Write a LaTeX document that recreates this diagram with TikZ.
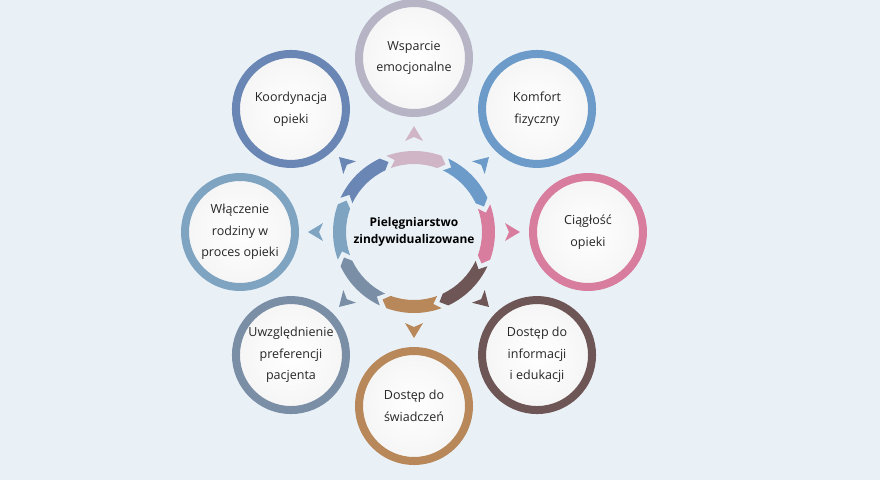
\documentclass[tikz,border=0pt]{standalone}
\usepackage{fontspec}
\setmainfont{Open Sans}
\usetikzlibrary{shadows}

\definecolor{bg}{HTML}{E9F1F7}
\definecolor{cwsp}{HTML}{B6B4C5}
\definecolor{cwspa}{HTML}{D0B5C7}
\definecolor{ckom}{HTML}{6C9BCA}
\definecolor{ccia}{HTML}{D87D9E}
\definecolor{cinf}{HTML}{6F5656}
\definecolor{cswi}{HTML}{B8875A}
\definecolor{cuwz}{HTML}{7A8EA6}
\definecolor{cwla}{HTML}{7FA4C2}
\definecolor{ckoo}{HTML}{6A86B4}

\begin{document}
\begin{tikzpicture}
    \tikzstyle{bubble}=[circle,line width=0.2cm,minimum size=2.75cm,inner sep=0pt,align=center,
        shading=radial,inner color=white,outer color=black!4,
        drop shadow={shadow xshift=0.03cm,shadow yshift=-0.05cm,opacity=0.1},
        text=black!85,font=\fontsize{8.9}{15.4}\selectfont]
    \tikzstyle{hub}=[align=center,font=\bfseries\fontsize{8.5}{12.2}\selectfont]
    \fill[bg] (-10.35,-6.2) rectangle (11.65,5.8);
    \useasboundingbox (-10.35,-6.2) rectangle (11.65,5.8);

    % ring segments
    \fill[cwspa] (110:2.025) arc[start angle=110,end angle=70,radius=2.025] -- (65:1.8625) -- (70:1.7) arc[start angle=70,end angle=110,radius=1.7] -- (105:1.8625) -- cycle;
    \fill[ckom]  (65:2.025) arc[start angle=65,end angle=25,radius=2.025] -- (20:1.8625) -- (25:1.7) arc[start angle=25,end angle=65,radius=1.7] -- (60:1.8625) -- cycle;
    \fill[ccia]  (20:2.025) arc[start angle=20,end angle=-20,radius=2.025] -- (-25:1.8625) -- (-20:1.7) arc[start angle=-20,end angle=20,radius=1.7] -- (15:1.8625) -- cycle;
    \fill[cinf]  (-25:2.025) arc[start angle=-25,end angle=-65,radius=2.025] -- (-70:1.8625) -- (-65:1.7) arc[start angle=-65,end angle=-25,radius=1.7] -- (-30:1.8625) -- cycle;
    \fill[cswi]  (-70:2.025) arc[start angle=-70,end angle=-110,radius=2.025] -- (-115:1.8625) -- (-110:1.7) arc[start angle=-110,end angle=-70,radius=1.7] -- (-75:1.8625) -- cycle;
    \fill[cuwz]  (-115:2.025) arc[start angle=-115,end angle=-155,radius=2.025] -- (-160:1.8625) -- (-155:1.7) arc[start angle=-155,end angle=-115,radius=1.7] -- (-120:1.8625) -- cycle;
    \fill[cwla]  (-160:2.025) arc[start angle=-160,end angle=-200,radius=2.025] -- (-205:1.8625) -- (-200:1.7) arc[start angle=-200,end angle=-160,radius=1.7] -- (-165:1.8625) -- cycle;
    \fill[ckoo]  (155:2.025) arc[start angle=155,end angle=115,radius=2.025] -- (110:1.8625) -- (115:1.7) arc[start angle=115,end angle=155,radius=1.7] -- (150:1.8625) -- cycle;

    % small darts
    \fill[cwspa,rotate=90]  (2.65,0) -- (2.275,0.225) -- (2.375,0) -- (2.275,-0.225) -- cycle;
    \fill[ckom,rotate=45]   (2.65,0) -- (2.275,0.225) -- (2.375,0) -- (2.275,-0.225) -- cycle;
    \fill[ccia,rotate=0]    (2.65,0) -- (2.275,0.225) -- (2.375,0) -- (2.275,-0.225) -- cycle;
    \fill[cinf,rotate=-45]  (2.65,0) -- (2.275,0.225) -- (2.375,0) -- (2.275,-0.225) -- cycle;
    \fill[cswi,rotate=-90]  (2.65,0) -- (2.275,0.225) -- (2.375,0) -- (2.275,-0.225) -- cycle;
    \fill[cuwz,rotate=-135] (2.65,0) -- (2.275,0.225) -- (2.375,0) -- (2.275,-0.225) -- cycle;
    \fill[cwla,rotate=180]  (2.65,0) -- (2.275,0.225) -- (2.375,0) -- (2.275,-0.225) -- cycle;
    \fill[ckoo,rotate=135]  (2.65,0) -- (2.275,0.225) -- (2.375,0) -- (2.275,-0.225) -- cycle;

    \node (hub)[hub] at (0,0) {Pielęgniarstwo\\zindywidualizowane};

    \node (wsp)[bubble,draw=cwsp] at (90:4.35)   {Wsparcie\\emocjonalne};
    \node (kom)[bubble,draw=ckom] at (45:4.35)   {Komfort\\fizyczny};
    \node (cia)[bubble,draw=ccia] at (0:4.35)    {Ciągłość\\opieki};
    \node (inf)[bubble,draw=cinf] at (-45:4.35)  {Dostęp do\\informacji\\i edukacji};
    \node (swi)[bubble,draw=cswi] at (-90:4.35)  {Dostęp do\\świadczeń};
    \node (uwz)[bubble,draw=cuwz] at (-135:4.35) {Uwzględnienie\\preferencji\\pacjenta};
    \node (wla)[bubble,draw=cwla] at (180:4.35)  {Włączenie\\rodziny w\\proces opieki};
    \node (koo)[bubble,draw=ckoo] at (135:4.35)  {Koordynacja\\opieki};
\end{tikzpicture}
\end{document}
